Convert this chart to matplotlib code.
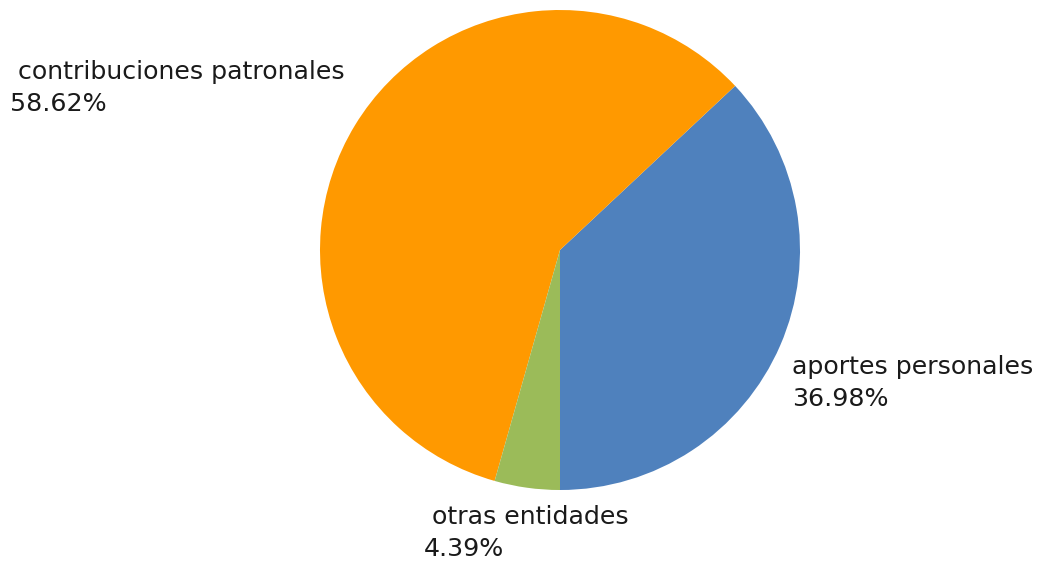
import matplotlib.pyplot as plt

# datos
labels = ['aportes personales', 'contribuciones patronales', 'otras entidades']
values = [36.98, 58.62, 4.39]
colors = ['#4f81bd', '#ff9900', '#9bbb59']

# posicion del texto (pixeles: izquierda, centro vertical)
label_px = [(792, 383), (10, 88), (424, 533)]

fig = plt.figure(figsize=(10.4, 5.62), dpi=100)
ax = fig.add_axes([0, 0, 1, 1])

cx, cy, r = 560, 250, 240
ax.pie(values, colors=colors, startangle=-90, counterclock=True,
       radius=r, center=(cx, -cy), wedgeprops=dict(linewidth=0))

for lab, val, (px, py) in zip(labels, values, label_px):
    lead = ' ' if lab != 'aportes personales' else ''
    ax.text(px, -py, f'{lead}{lab}\n{val:.2f}%', ha='left', va='center',
            fontsize=18.2, color='#1a1a1a', family='DejaVu Sans', linespacing=1.38)

ax.set_xlim(0, 1040)
ax.set_ylim(-562, 0)
ax.set_aspect('auto')
ax.axis('off')

plt.savefig('out.png', dpi=100)
